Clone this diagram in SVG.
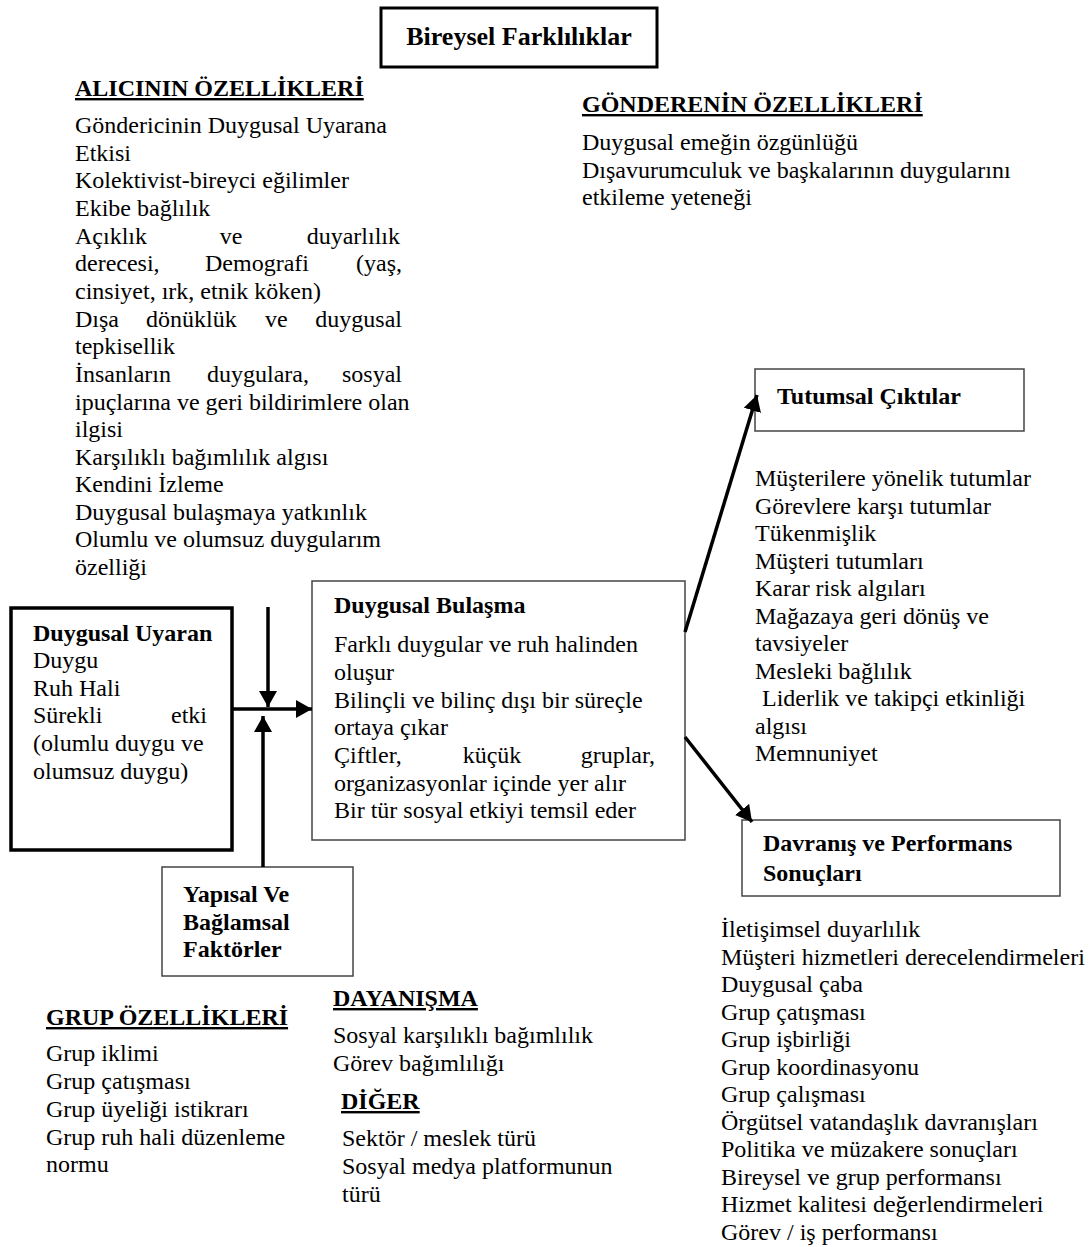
<svg xmlns="http://www.w3.org/2000/svg" width="1089" height="1247" viewBox="0 0 1089 1247">
<style>
text{font-family:"Liberation Serif","Times New Roman",serif;font-size:24px;fill:#000}
.b{font-weight:bold}
.u{font-weight:bold;text-decoration:underline}
.e{text-anchor:end}
.m{text-anchor:middle}
.box{fill:#fff;stroke:#000}
.thin{fill:#fff;stroke:#444;stroke-width:1.5}
.con{stroke:#000;stroke-width:3.5;fill:none}
</style>
<defs>
<marker id="ah" markerUnits="userSpaceOnUse" markerWidth="18" markerHeight="18" refX="16" refY="9" orient="auto" viewBox="0 0 18 18">
<path d="M0,0 L16,9 L0,18 z" fill="#000"/>
</marker>
</defs>
<rect width="1089" height="1247" fill="#fff"/>

<g id="bireysel">
<rect class="box" x="381" y="8" width="276" height="59" stroke-width="3"/>
<text class="b m" x="519" y="45" style="font-size:26px">Bireysel Farklılıklar</text>
</g>

<g id="alici">
<text class="u" x="75" y="96">ALICININ ÖZELLİKLERİ</text>
<text x="75" y="133">Göndericinin Duygusal Uyarana</text>
<text x="75" y="161">Etkisi</text>
<text x="75" y="188">Kolektivist-bireyci eğilimler</text>
<text x="75" y="216">Ekibe bağlılık</text>
<text x="75" y="244">Açıklık</text><text x="231" y="244" class="m">ve</text><text x="400" y="244" class="e">duyarlılık</text>
<text x="75" y="271">derecesi,</text><text x="205" y="271">Demografi</text><text x="402" y="271" class="e">(yaş,</text>
<text x="75" y="299">cinsiyet, ırk, etnik köken)</text>
<text x="75" y="327">Dışa</text><text x="146" y="327">dönüklük</text><text x="265" y="327">ve</text><text x="402" y="327" class="e">duygusal</text>
<text x="75" y="354">tepkisellik</text>
<text x="75" y="382">İnsanların</text><text x="207" y="382">duygulara,</text><text x="402" y="382" class="e">sosyal</text>
<text x="75" y="410">ipuçlarına ve geri bildirimlere olan</text>
<text x="75" y="437">ilgisi</text>
<text x="75" y="465">Karşılıklı bağımlılık algısı</text>
<text x="75" y="492">Kendini İzleme</text>
<text x="75" y="520">Duygusal bulaşmaya yatkınlık</text>
<text x="75" y="547">Olumlu ve olumsuz duygularım</text>
<text x="75" y="575">özelliği</text>
</g>

<g id="gonderen">
<text class="u" x="582" y="112">GÖNDERENİN ÖZELLİKLERİ</text>
<text x="582" y="150">Duygusal emeğin özgünlüğü</text>
<text x="582" y="178">Dışavurumculuk ve başkalarının duygularını</text>
<text x="582" y="205">etkileme yeteneği</text>
</g>

<g id="uyaran">
<rect class="box" x="11" y="608" width="221" height="242" stroke-width="3.5"/>
<text class="b" x="33" y="641">Duygusal Uyaran</text>
<text x="33" y="668">Duygu</text>
<text x="33" y="696">Ruh Hali</text>
<text x="33" y="723">Sürekli</text><text x="207" y="723" class="e">etki</text>
<text x="33" y="751">(olumlu duygu ve</text>
<text x="33" y="779">olumsuz duygu)</text>
</g>

<g id="bulasma">
<rect class="thin" x="312" y="581" width="373" height="259"/>
<text class="b" x="334" y="613">Duygusal Bulaşma</text>
<text x="334" y="652">Farklı duygular ve ruh halinden</text>
<text x="334" y="680">oluşur</text>
<text x="334" y="708">Bilinçli ve bilinç dışı bir süreçle</text>
<text x="334" y="735">ortaya çıkar</text>
<text x="334" y="763">Çiftler,</text><text x="492" y="763" class="m">küçük</text><text x="655" y="763" class="e">gruplar,</text>
<text x="334" y="791">organizasyonlar içinde yer alır</text>
<text x="334" y="818">Bir tür sosyal etkiyi temsil eder</text>
</g>

<g id="yapisal">
<rect class="thin" x="162" y="867" width="191" height="109"/>
<text class="b" x="183" y="902">Yapısal Ve</text>
<text class="b" x="183" y="930">Bağlamsal</text>
<text class="b" x="183" y="957">Faktörler</text>
</g>

<g id="tutumsal">
<rect class="thin" x="755" y="369" width="269" height="62"/>
<text class="b" x="777" y="404">Tutumsal Çıktılar</text>
<text x="755" y="486">Müşterilere yönelik tutumlar</text>
<text x="755" y="514">Görevlere karşı tutumlar</text>
<text x="755" y="541">Tükenmişlik</text>
<text x="755" y="569">Müşteri tutumları</text>
<text x="755" y="596">Karar risk algıları</text>
<text x="755" y="624">Mağazaya geri dönüş ve</text>
<text x="755" y="651">tavsiyeler</text>
<text x="755" y="679">Mesleki bağlılık</text>
<text x="762" y="706">Liderlik ve takipçi etkinliği</text>
<text x="755" y="734">algısı</text>
<text x="755" y="761">Memnuniyet</text>
</g>

<g id="davranis">
<rect class="thin" x="742" y="820" width="318" height="76"/>
<text class="b" x="763" y="851">Davranış ve Performans</text>
<text class="b" x="763" y="881">Sonuçları</text>
<text x="721" y="937">İletişimsel duyarlılık</text>
<text x="721" y="965">Müşteri hizmetleri derecelendirmeleri</text>
<text x="721" y="992">Duygusal çaba</text>
<text x="721" y="1020">Grup çatışması</text>
<text x="721" y="1047">Grup işbirliği</text>
<text x="721" y="1075">Grup koordinasyonu</text>
<text x="721" y="1102">Grup çalışması</text>
<text x="721" y="1130">Örgütsel vatandaşlık davranışları</text>
<text x="721" y="1157">Politika ve müzakere sonuçları</text>
<text x="721" y="1185">Bireysel ve grup performansı</text>
<text x="721" y="1212">Hizmet kalitesi değerlendirmeleri</text>
<text x="721" y="1240">Görev / iş performansı</text>
</g>

<g id="grup">
<text class="u" x="46" y="1025">GRUP ÖZELLİKLERİ</text>
<text x="46" y="1061">Grup iklimi</text>
<text x="46" y="1089">Grup çatışması</text>
<text x="46" y="1117">Grup üyeliği istikrarı</text>
<text x="46" y="1145">Grup ruh hali düzenleme</text>
<text x="46" y="1172">normu</text>
</g>

<g id="dayanisma">
<text class="u" x="333" y="1006">DAYANIŞMA</text>
<text x="333" y="1043">Sosyal karşılıklı bağımlılık</text>
<text x="333" y="1071">Görev bağımlılığı</text>
</g>

<g id="diger">
<text class="u" x="341" y="1109">DİĞER</text>
<text x="342" y="1146">Sektör / meslek türü</text>
<text x="342" y="1174">Sosyal medya platformunun</text>
<text x="342" y="1202">türü</text>
</g>

<g id="connectors">
<line class="con" x1="232" y1="709" x2="312" y2="709" marker-end="url(#ah)"/>
<line class="con" x1="268" y1="607" x2="268" y2="707" marker-end="url(#ah)"/>
<line class="con" x1="263" y1="867" x2="263" y2="716" marker-end="url(#ah)"/>
<line class="con" x1="685" y1="632" x2="757" y2="395" marker-end="url(#ah)"/>
<line class="con" x1="685" y1="737" x2="752" y2="822" marker-end="url(#ah)"/>
</g>
</svg>
